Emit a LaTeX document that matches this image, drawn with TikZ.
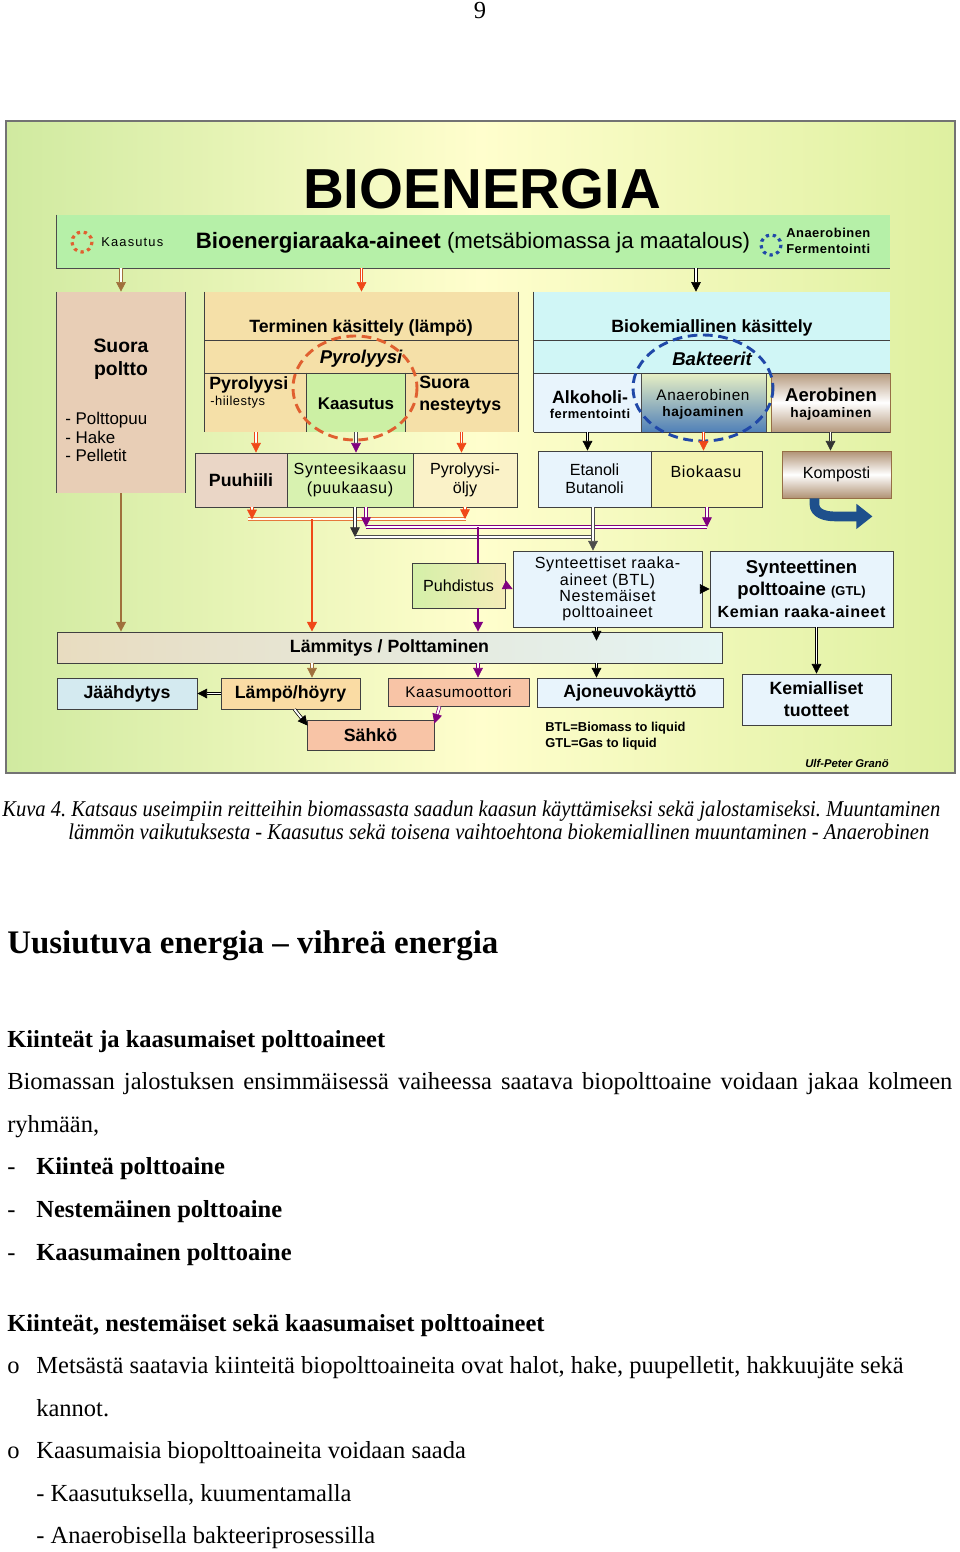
\documentclass[tikz,border=0pt]{standalone}
\usepackage{fontspec}
\setmainfont{Liberation Sans}
\newfontfamily\serif{Liberation Serif}
\newfontfamily\capfont[FakeStretch=0.91]{Liberation Serif}
\newfontfamily\spaced[LetterSpace=4]{Liberation Sans}
\newfontfamily\spacedwide[LetterSpace=9]{Liberation Sans}
\usetikzlibrary{arrows.meta,positioning,calc}

\newlength{\pxu}
\setlength{\pxu}{0.62pt}
\newcommand{\fsz}[2]{\fontsize{#1}{#2}\selectfont}
\newcommand{\bodyfont}{\serif\fsz{15.2}{18}}

\definecolor{bgl}{RGB}{208,234,160}
\definecolor{bgm}{RGB}{255,254,205}
\definecolor{bgr}{RGB}{222,240,160}
\definecolor{bandgreen}{RGB}{182,240,168}
\definecolor{suorafill}{RGB}{232,206,182}
\definecolor{wheat}{RGB}{245,224,168}
\definecolor{kaasfill}{RGB}{204,240,164}
\definecolor{hiilifill}{RGB}{234,214,198}
\definecolor{synkfill}{RGB}{216,242,176}
\definecolor{oljyfill}{RGB}{250,242,200}
\definecolor{biofill}{RGB}{208,246,246}
\definecolor{paleblue}{RGB}{232,244,252}
\definecolor{biokfill}{RGB}{244,244,178}
\definecolor{anatop}{RGB}{232,240,196}
\definecolor{anabot}{RGB}{80,128,184}
\definecolor{brn}{RGB}{150,110,70}
\definecolor{jaahdfill}{RGB}{212,234,240}
\definecolor{lampofill}{RGB}{250,220,164}
\definecolor{salmon}{RGB}{248,196,166}
\definecolor{lamml}{RGB}{232,220,192}
\definecolor{lammr}{RGB}{228,244,244}
\definecolor{puhdl}{RGB}{212,240,168}
\definecolor{puhdr}{RGB}{244,236,184}
\definecolor{arrbrown}{RGB}{160,112,60}
\definecolor{arrred}{RGB}{240,72,24}
\definecolor{arrpurple}{RGB}{128,0,128}
\definecolor{busorange}{RGB}{230,120,60}
\definecolor{kaasorange}{RGB}{224,96,48}
\definecolor{fermblue}{RGB}{32,72,168}
\definecolor{kblue}{RGB}{30,80,140}

\tikzstyle{box}=[draw=black!75, line width=0.5pt, inner sep=0pt, align=center]
\tikzstyle{area}=[inner sep=0pt]
\tikzstyle{lbl}=[inner sep=0pt, align=center]
\tikzstyle{dbl}=[double distance=1.2pt, line width=0.45pt, -{Triangle[length=6pt,width=6pt]}]
\tikzstyle{bus}=[double distance=1.2pt, line width=0.45pt]
\tikzstyle{ring}=[line width=1.8pt, dash pattern=on 6pt off 3.5pt]
\tikzstyle{txt}=[inner sep=0pt, anchor=base west, font=\bodyfont]
% box from its corners, in pixels of the page
\tikzset{corners/.style n args={4}{minimum width={(#3-#1)*\pxu}, minimum height={(#4-#2)*\pxu},
    at={({(#1+#3)/2},{(#2+#4)/2})}}}

\begin{document}
\frenchspacing
\begin{tikzpicture}[x=0.62pt, y=-0.62pt]
    \useasboundingbox (0,0) rectangle (960,1552);
    \fill[white] (0,0) rectangle (960,1552);

    \node[inner sep=0pt, anchor=base, font=\bodyfont] (pgnum) at (480,18) {9};

    % figure background
    \shade[left color=bgl, right color=bgr, middle color=bgm] (6,121) rectangle (955,773);
    \draw[black!55, line width=0.7pt] (6,121) rectangle (955,773);

    \node[lbl, font=\bfseries\fsz{35}{40}] (title) at (482,189) {BIOENERGIA};

    \node[area, fill=bandgreen, corners={57}{215}{890}{268}] (band) {};
    \draw[black!70, line width=0.6pt] (band.north west) -- (band.south west) -- (band.south east);
    \node[lbl, font=\fsz{13.8}{16}] (bandlbl) at (473,243) {\textbf{Bioenergiaraaka-aineet} (metsäbiomassa ja maatalous)};

    \draw[kaasorange, line width=2pt, dash pattern=on 2pt off 2.3pt] (82,242) circle[radius=10];
    \node[lbl, font=\spacedwide\fsz{8}{9}, anchor=west] (kaaslbl) at (101,242) {Kaasutus};
    \draw[fermblue, line width=2pt, dash pattern=on 2pt off 2.3pt] (771,245) circle[radius=10];
    \node[lbl, font=\spaced\bfseries\fsz{8}{10}, align=left, anchor=west] (fermlbl) at (786,241) {Anaerobinen\\Fermentointi};

    % suora poltto
    \node[area, fill=suorafill, corners={57}{292}{185}{493}] (suora) {};
    \draw[black!70] (suora.north west) -- (suora.south west) (suora.north east) -- (suora.south east);
    \node[lbl, font=\bfseries\fsz{12}{14.3}] (suoralbl) at (121,359) {Suora\\poltto};
    \node[lbl, font=\fsz{10.5}{11.5}, align=left, anchor=west] (suoralist) at (65,437) {- Polttopuu\\- Hake\\- Pelletit};

    % terminen
    \node[area, fill=wheat, corners={205}{292}{518}{341}] (term) {};
    \node[area, fill=wheat, corners={205}{341}{518}{373}] (pyrrow) {};
    \node[area, fill=wheat, corners={205}{373}{307}{432}] (hiilcell) {};
    \node[area, fill=kaasfill, corners={307}{373}{405}{432}] (kaascell) {};
    \node[area, fill=wheat, corners={405}{373}{518}{432}] (nestcell) {};
    \draw[black!75] (term.north west) -- (hiilcell.south west)
        (term.north east) -- (nestcell.south east)
        (pyrrow.north west) -- (pyrrow.north east)
        (pyrrow.south west) -- (pyrrow.south east)
        (kaascell.north west) -- (kaascell.south west)
        (kaascell.north east) -- (kaascell.south east);
    \node[lbl, font=\bfseries\fsz{11}{13}] (termlbl) at (361,328) {Terminen käsittely (lämpö)};
    \node[lbl, font=\bfseries\itshape\fsz{11.5}{13}] (pyrlbl) at (361,359) {Pyrolyysi};
    \node[lbl, font=\bfseries\fsz{11}{13}, anchor=west] (hiillbl) at (209,385) {Pyrolyysi};
    \node[lbl, font=\spaced\fsz{8}{9}, anchor=west] (hiilsub) at (210,402) {-hiilestys};
    \node[lbl, font=\bfseries\fsz{10.5}{13}] (kaaslbl2) at (356,404) {Kaasutus};
    \node[lbl, font=\bfseries\fsz{11}{13.6}, align=left, anchor=west] (nestlbl) at (419,395) {Suora\\nesteytys};
    \draw[kaasorange, ring] (355,388) ellipse[x radius=62, y radius=52];

    \node[box, fill=hiilifill, corners={195}{453}{287}{507}, font=\bfseries\fsz{11}{13}] (puuhiili) {Puuhiili};
    \node[box, fill=synkfill, corners={287}{453}{413}{507}, font=\spaced\fsz{10}{12}] (synk) {Synteesikaasu\\(puukaasu)};
    \node[box, fill=oljyfill, corners={413}{453}{517}{507}, font=\fsz{10}{12}] (oljy) {Pyrolyysi-\\öljy};

    % biokemiallinen
    \node[area, fill=biofill, corners={534}{292}{890}{341}] (bio) {};
    \node[area, fill=biofill, corners={534}{341}{890}{373}] (bakrow) {};
    \node[area, fill=paleblue, corners={534}{373}{641}{432}] (alk) {};
    \node[area, draw=black!70, top color=anatop, bottom color=anabot, corners={641}{373}{766}{432}] (ana) {};
    \node[area, draw=brn, top color=brn!70, bottom color=brn!70, middle color=white, corners={771}{373}{890}{432}] (aer) {};
    \draw[black!75] (bio.north west) -- (alk.south west)
        (bakrow.north west) -- (bakrow.north east)
        (bakrow.south west) -- (bakrow.south east)
        (alk.south west) -- (aer.south east);
    \node[lbl, font=\bfseries\fsz{11}{13}] (biolbl) at (712,328) {Biokemiallinen käsittely};
    \node[lbl, font=\bfseries\itshape\fsz{11.5}{13}] (baklbl) at (712,359) {Bakteerit};
    \node[lbl, font=\bfseries\fsz{11}{13}] (alklbl) at (590,397) {Alkoholi-};
    \node[lbl, font=\spaced\bfseries\fsz{8}{9}, below=3pt of alklbl] (alksub) {fermentointi};
    \node[lbl, font=\spaced\fsz{9.5}{11}] (analbl) at (703,395) {Anaerobinen};
    \node[lbl, font=\spaced\bfseries\fsz{8.5}{10}, below=3pt of analbl] (anasub) {hajoaminen};
    \node[lbl, font=\bfseries\fsz{11.5}{13}] (aerlbl) at (831,395) {Aerobinen};
    \node[lbl, font=\spaced\bfseries\fsz{8.5}{10}, below=3pt of aerlbl] (aersub) {hajoaminen};
    \draw[fermblue, ring] (703,388) ellipse[x radius=70, y radius=53];

    \node[box, fill=paleblue, corners={538}{451}{651}{507}, font=\fsz{10}{11}] (etanoli) {Etanoli\\Butanoli};
    \node[box, fill=biokfill, corners={651}{451}{762}{507}] (biokaasu) {};
    \node[lbl, font=\spaced\fsz{10}{12}] (biokaasulbl) at (706,472) {Biokaasu};
    \node[box, draw=brn, top color=brn!75, bottom color=brn!75, middle color=white, corners={782}{451}{891}{498}, font=\fsz{10}{12}] (komposti) {Komposti};
    \draw[kblue, line width=6pt, -{Triangle[length=10pt,width=15pt]}] ($(komposti.south)+(-22,0)$) -- ++(0,6) to[out=-90, in=180] ++(20,12) -- ++(38,0);

    % lower part
    \node[box, left color=puhdl, right color=puhdr, corners={412}{563}{505}{608}, font=\fsz{10}{12}] (puhdistus) {Puhdistus};
    \node[box, fill=paleblue, corners={513}{551}{702}{627}, font=\spaced\fsz{10}{10}] (synt) {Synteettiset raaka-\\aineet (BTL)\\Nestemäiset\\polttoaineet};
    \node[box, fill=paleblue, corners={710}{551}{893}{627}, font=\bfseries\fsz{11.5}{13.5}] (syntpa) {Synteettinen\\polttoaine {\fsz{8}{9}(GTL)}\\{\spaced\fsz{10}{13.5}Kemian raaka-aineet}};
    \node[box, left color=lamml, right color=lammr, corners={57}{632}{722}{663}, font=\bfseries\fsz{11}{13}] (lammitys) {Lämmitys / Polttaminen};
    \node[box, fill=jaahdfill, corners={57}{678}{197}{709}, font=\bfseries\fsz{11}{13}] (jaahd) {Jäähdytys};
    \node[box, fill=lampofill, corners={221}{678}{360}{709}, font=\bfseries\fsz{11}{13}] (lampo) {Lämpö/höyry};
    \node[box, fill=salmon, corners={388}{678}{529}{706}, font=\spaced\fsz{9.5}{11}] (kaasum) {Kaasumoottori};
    \node[box, fill=salmon, corners={307}{720}{434}{750}, font=\bfseries\fsz{11}{13}] (sahko) {Sähkö};
    \node[box, fill=paleblue, corners={537}{678}{723}{707}, font=\bfseries\fsz{11}{13}] (ajon) {Ajoneuvokäyttö};
    \node[box, fill=paleblue, corners={742}{674}{891}{725}, font=\bfseries\fsz{11}{13.6}] (kemia) {Kemialliset\\tuotteet};

    \node[lbl, font=\bfseries\fsz{8}{10}, align=left, anchor=west] (btl) at (545,736) {BTL=Biomass to liquid\\GTL=Gas to liquid};
    \node[lbl, font=\bfseries\itshape\fsz{7}{8}] (ulf) at (847,763) {Ulf-Peter Granö};

    % bus lines
    \coordinate (obusL) at (248,519);
    \coordinate (obusR) at (466,519);
    \coordinate (odrop) at (312,519);
    \coordinate (gbusL) at (355,537);
    \coordinate (gbusR) at (593,537);
    \coordinate (pbusL) at (366,527);
    \coordinate (pbusR) at (707,527);
    \coordinate (pdrop) at (478,527);
    \coordinate (sdrop) at ($(synt.south)+(-11,0)$);

    \draw[bus, draw=busorange] (obusL) -- (obusR);
    \draw[bus, draw=black!70] (gbusL) -- (gbusR);
    \draw[bus, draw=arrpurple] (pbusL) -- (pbusR);

    \draw[dbl, draw=arrbrown] (band.south -| suora.north) -- (suora.north);
    \draw[dbl, draw=arrred] (band.south -| term.north) -- (term.north);
    \draw[dbl, draw=black] ($(band.south -| bio.north)+(-16,0)$) -- ($(bio.north)+(-16,0)$);
    \draw[line width=1pt, draw=arrbrown, -{Triangle[length=6pt,width=6pt]}] (suora.south) -- (suora.south |- lammitys.north);

    \draw[dbl, draw=arrred] (hiilcell.south) -- (hiilcell.south |- puuhiili.north);
    \draw[dbl, draw=black!70, -{Triangle[length=6pt,width=6pt,color=arrpurple]}] (kaascell.south) -- (kaascell.south |- synk.north);
    \draw[dbl, draw=arrred] (nestcell.south) -- (nestcell.south |- oljy.north);
    \draw[dbl, draw=black] (alk.south) -- (alk.south |- etanoli.north);
    \draw[dbl, draw=arrred] (ana.south) -- (ana.south |- biokaasu.north);
    \draw[dbl, draw=black!80] (aer.south) -- (aer.south |- komposti.north);

    \draw[dbl, draw=arrred] (puuhiili.south) ++(11,0) -- ++(0,12);
    \draw[dbl, draw=arrred] (oljy.south) -- (oljy.south |- obusR);
    \draw[line width=1.3pt, draw=arrred, -{Triangle[length=6pt,width=6pt]}] (odrop) -- (odrop |- lammitys.north);

    \draw[dbl, draw=black!80] (synk.south -| gbusL) -- (gbusL);
    \draw[dbl, draw=black!70] (etanoli.south -| gbusR) -- (synt.north -| gbusR);
    \draw[dbl, draw=arrpurple] (synk.south -| pbusL) -- (pbusL);
    \draw[dbl, draw=arrpurple] (biokaasu.south -| pbusR) -- (pbusR);
    \draw[line width=1pt, draw=arrpurple] (pdrop) -- (pdrop |- puhdistus.north);
    \draw[line width=1pt, draw=arrpurple, -{Triangle[length=6pt,width=6pt]}] (pdrop |- puhdistus.south) -- (pdrop |- lammitys.north);
    \draw[dbl, draw=arrpurple] (puhdistus.east) -- (synt.west);

    \draw[dbl, draw=black] (synt.east) -- (syntpa.west);
    \draw[dbl, draw=black] (kemia.north |- syntpa.south) -- (kemia.north);
    \draw[dbl, draw=black] (sdrop) -- ($(sdrop |- lammitys.north)+(0,9)$);
    \draw[dbl, draw=black] (lammitys.south -| sdrop) -- (ajon.north -| sdrop);
    \draw[dbl, draw=arrbrown] (lammitys.south -| odrop) -- (lampo.north -| odrop);
    \draw[dbl, draw=arrpurple] (lammitys.south -| pdrop) -- (kaasum.north -| pdrop);
    \draw[dbl, draw=black] (lampo.west) -- (jaahd.east);
    \draw[dbl, draw=black] ($(lampo.south)+(4,0)$) -- ($(sahko.north west)+(1,6)$);
    \draw[dbl, draw=arrpurple] ($(kaasum.south west)+(52,0)$) -- ($(sahko.north east)+(0,4)$);

    % text below the figure
    \node[txt, font=\capfont\itshape\fsz{14}{16}] (cap1) at (2,816) {\makebox[938\pxu][s]{Kuva 4. Katsaus useimpiin reitteihin biomassasta saadun kaasun käyttämiseksi sekä jalostamiseksi. Muuntaminen}};
    \node[txt, font=\capfont\itshape\fsz{14}{16}] (cap2) at (68,839) {lämmön vaikutuksesta - Kaasutus sekä toisena vaihtoehtona biokemiallinen muuntaminen - Anaerobinen};

    \node[txt, font=\serif\bfseries\fsz{20.4}{24}] (head) at (7,953) {Uusiutuva energia – vihreä energia};
    \node[txt, font=\bodyfont\bfseries] (sub1) at (7,1047) {Kiinteät ja kaasumaiset polttoaineet};
    \node[txt] (par1) at (7,1089) {\makebox[945\pxu][s]{Biomassan jalostuksen ensimmäisessä vaiheessa saatava biopolttoaine voidaan jakaa kolmeen}};
    \node[txt] (par2) at (7,1132) {ryhmään,};
    \node[txt] (dash1) at (7,1174) {-};
    \node[txt, font=\bodyfont\bfseries] (item1) at (36,1174) {Kiinteä polttoaine};
    \node[txt] (dash2) at (7,1217) {-};
    \node[txt, font=\bodyfont\bfseries] (item2) at (36,1217) {Nestemäinen polttoaine};
    \node[txt] (dash3) at (7,1260) {-};
    \node[txt, font=\bodyfont\bfseries] (item3) at (36,1260) {Kaasumainen polttoaine};
    \node[txt, font=\bodyfont\bfseries] (sub2) at (7,1331) {Kiinteät, nestemäiset sekä kaasumaiset polttoaineet};
    \node[txt] (bul1) at (7,1373) {o};
    \node[txt] (par3) at (36,1373) {Metsästä saatavia kiinteitä biopolttoaineita ovat halot, hake, puupelletit, hakkuujäte sekä};
    \node[txt] (par4) at (36,1416) {kannot.};
    \node[txt] (bul2) at (7,1458) {o};
    \node[txt] (par5) at (36,1458) {Kaasumaisia biopolttoaineita voidaan saada};
    \node[txt] (par6) at (36,1501) {- Kaasutuksella, kuumentamalla};
    \node[txt] (par7) at (36,1543) {- Anaerobisella bakteeriprosessilla};
\end{tikzpicture}
\end{document}
